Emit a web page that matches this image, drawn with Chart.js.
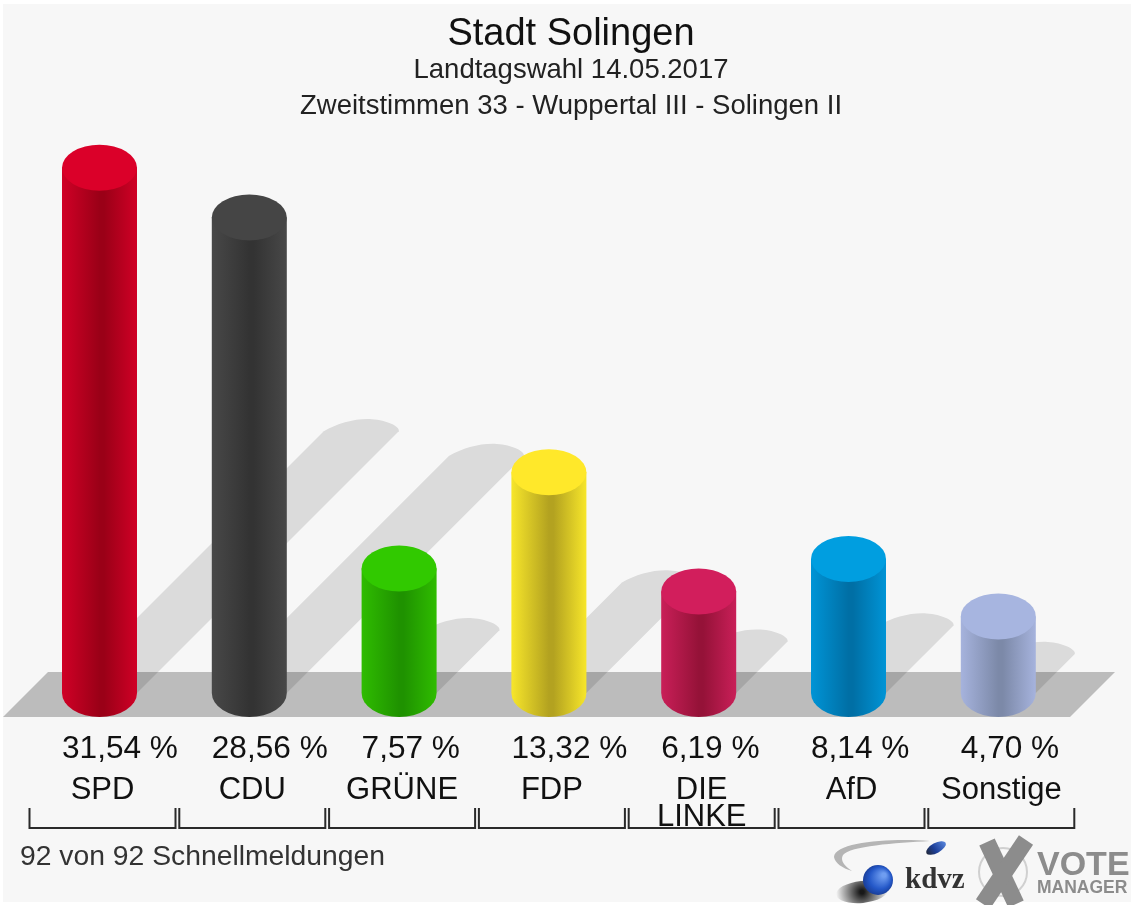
<!DOCTYPE html>
<html><head><meta charset="utf-8">
<style>html,body{margin:0;padding:0;background:#fff}#w{width:1131px;height:905px;overflow:hidden}canvas{display:block;filter:blur(0.6px)}</style>
<script src="https://cdn.jsdelivr.net/npm/chart.js@4"></script></head>
<body><div id="w"><canvas id="c" width="1131" height="905"></canvas></div>
<script>
const categories=['SPD','CDU','GRÜNE','FDP',['DIE','LINKE'],'AfD','Sonstige'];
const values=[31.54,28.56,7.57,13.32,6.19,8.14,4.70];
const capColors=['#db0029','#454545','#31c900','#ffe82a','#d21e5c','#009ee0','#a7b5e0'];
const sideColors=['#d00026','#484848','#2fbc00','#f7e62a','#c91f58','#0094d6','#a6b3dd'];
const darkColors=['#9a0017','#333333','#1f9200','#b3a220','#951238','#006fa5','#7c89a8'];
const titleText='Stadt Solingen';
const subtitleLines=['Landtagswahl 14.05.2017','Zweitstimmen 33 - Wuppertal III - Solingen II'];
const footerText='92 von 92 Schnellmeldungen';
const FONT='"Liberation Sans", Arial, sans-serif';

const BAR_SHIFT=-3, HALF=37.5, CAP=23, BELOW=21, SH=8.3;

const cylinders={
  id:'cylinders',
  beforeDraw(ch){
    const c=ch.ctx; c.save();
    c.fillStyle='#f7f7f7'; c.fillRect(3,4,ch.width-3,ch.height-7);
    const z=ch.scales.y.getPixelForValue(0);
    c.fillStyle='#bcbcbc'; c.beginPath();
    c.moveTo(3,z+45); c.lineTo(48,z); c.lineTo(1115,z); c.lineTo(1070,z+45); c.closePath(); c.fill();
    c.restore();
  },
  beforeDatasetDraw(ch,args){
    const c=ch.ctx, meta=args.meta; c.save();
    meta.data.forEach((el,i)=>{
      const L=el.x+BAR_SHIFT-HALF,R=L+2*HALF,Y0=el.base+BELOW,r=values[i]*SH,Y=Y0-r;
      c.fillStyle='rgba(0,0,0,0.115)'; c.beginPath();
      c.moveTo(L,Y0); c.lineTo(L+r,Y);
      c.bezierCurveTo(L+r+14,Y-8,L+r+32,Y-13,L+r+48,Y-12);
      c.bezierCurveTo(R+r-12,Y-11,R+r+1,Y-5,R+r,Y);
      c.lineTo(R,Y0); c.closePath(); c.fill();
    });
    meta.data.forEach((el,i)=>{
      const cx=el.x+BAR_SHIFT,L=cx-HALF,R=cx+HALF,T=el.y+CAP,B=el.base+BELOW;
      const g=c.createLinearGradient(L,0,R,0);
      g.addColorStop(0,sideColors[i]); g.addColorStop(.5,darkColors[i]);
      g.addColorStop(.56,darkColors[i]); g.addColorStop(1,sideColors[i]);
      c.fillStyle=g; c.beginPath();
      c.moveTo(L,T); c.lineTo(L,B); c.ellipse(cx,B,HALF,24,0,Math.PI,0,true);
      c.lineTo(R,T); c.closePath(); c.fill();
      c.fillStyle=capColors[i]; c.beginPath(); c.ellipse(cx,T,HALF,CAP,0,0,Math.PI*2); c.fill();
    });
    c.restore();
    return false;
  },
  afterDraw(ch){
    const c=ch.ctx, meta=ch.getDatasetMeta(0); c.save();
    c.fillStyle='#111'; c.font='31.6px '+FONT; c.textAlign='left'; c.textBaseline='middle';
    meta.data.forEach((el,i)=>{
      c.fillText(values[i].toFixed(2).replace('.',',')+' %',el.x+BAR_SHIFT-HALF,749);
    });
    c.strokeStyle='#2a2a2a'; c.lineWidth=2;
    meta.data.forEach(el=>{
      c.beginPath(); c.moveTo(el.x-73,808); c.lineTo(el.x-73,828); c.lineTo(el.x+73,828); c.lineTo(el.x+73,808); c.stroke();
    });
    c.fillStyle='#333'; c.font='28.3px '+FONT; c.fillText(footerText,20,857);
    drawLogos(c);
    c.restore();
  }
};
function drawLogos(c){
  c.fillStyle='#b5b5b5'; c.beginPath();
  c.moveTo(930,841); c.bezierCurveTo(890,838,835,842,834,857);
  c.bezierCurveTo(835,863,842,868,852,871); c.bezierCurveTo(844,866,840,860,843,855);
  c.bezierCurveTo(850,846,895,843,930,841); c.fill();
  let g=c.createLinearGradient(925,855,945,840); g.addColorStop(0,'#222'); g.addColorStop(.45,'#1d3f9a'); g.addColorStop(1,'#5c8ae0');
  c.fillStyle=g; c.beginPath(); c.ellipse(936,848,11,5,-0.5,0,Math.PI*2); c.fill();
  g=c.createRadialGradient(862,892,2,862,892,26); g.addColorStop(0,'rgba(0,0,0,.9)'); g.addColorStop(1,'rgba(0,0,0,0)');
  c.fillStyle=g; c.beginPath(); c.ellipse(862,892,26,11,-0.1,0,Math.PI*2); c.fill();
  g=c.createRadialGradient(884,875,2,878,880,17); g.addColorStop(0,'#6f9df0'); g.addColorStop(.6,'#2458c8'); g.addColorStop(1,'#16368a');
  c.fillStyle=g; c.beginPath(); c.arc(878,880,15,0,Math.PI*2); c.fill();
  c.fillStyle='#333'; c.font='bold 29px "Liberation Serif", serif'; c.textAlign='left'; c.textBaseline='alphabetic';
  c.fillText('kdvz',905,888,62);
  c.strokeStyle='#d0d0d0'; c.lineWidth=2; c.beginPath(); c.arc(1003,872,24,0,Math.PI*2); c.stroke();
  c.strokeStyle='#8c8c8c'; c.lineWidth=17; c.lineCap='butt';
  c.beginPath(); c.moveTo(987,842); c.lineTo(1016,904); c.stroke();
  c.beginPath(); c.moveTo(1026,840); c.lineTo(983,904); c.stroke();
  c.fillStyle='#8c8c8c'; c.font='bold 34px '+FONT;
  c.fillText('VOTE',1037,875,94);
  c.font='bold 17.5px '+FONT;
  c.fillText('MANAGER',1037,893,94);
}
new Chart(document.getElementById('c'),{
  type:'bar',
  data:{labels:categories,datasets:[{data:values,backgroundColor:capColors,barThickness:75}]},
  plugins:[cylinders],
  options:{
    responsive:false,animation:false,
    layout:{padding:{left:11,right:0,top:0,bottom:0}},
    plugins:{
      legend:{display:false},tooltip:{enabled:false},
      title:{display:true,text:titleText,color:'#111',font:{family:FONT,size:38,weight:'normal',lineHeight:0.93},padding:{top:17,bottom:0}},
      subtitle:{display:true,text:subtitleLines,color:'#222',font:{family:FONT,size:27.5,weight:'normal',lineHeight:1.31},padding:{top:0,bottom:6.6}}
    },
    scales:{
      x:{grid:{display:false,drawTicks:false},border:{display:false},
         ticks:{color:'#111',font:{family:FONT,size:31,lineHeight:0.87},maxRotation:0,minRotation:0,autoSkip:false,padding:105},
         afterFit(a){a.height=233;a.paddingLeft=0;a.paddingRight=0;}},
      y:{min:0,max:32.36,display:true,grid:{display:false,drawTicks:false},border:{display:false},ticks:{display:false},
         afterFit(a){a.width=16.6;}},
      y2:{type:'linear',position:'right',display:true,grid:{display:false,drawTicks:false},border:{display:false},ticks:{display:false},
         afterFit(a){a.width=54.8;}}
    }
  }
});
</script></body></html>
